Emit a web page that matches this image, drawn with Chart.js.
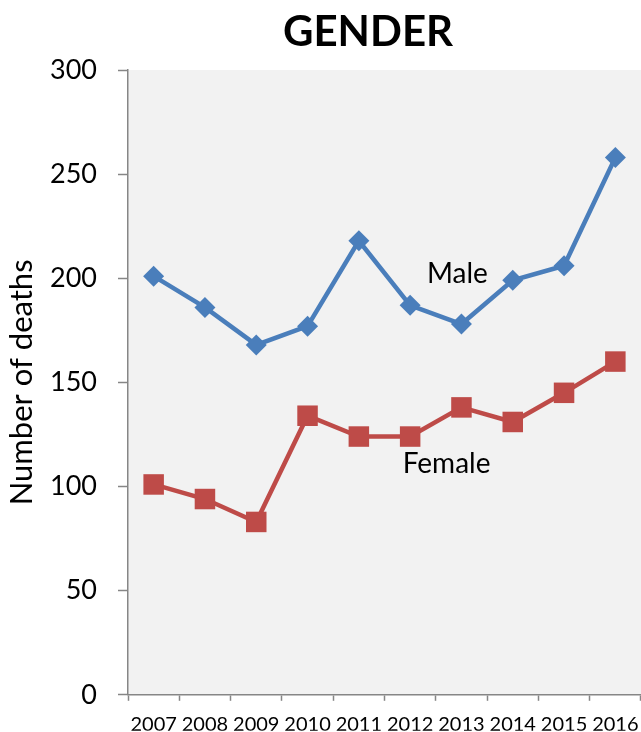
<!DOCTYPE html>
<html>
<head>
<meta charset="utf-8">
<title>Gender</title>
<script src="https://cdn.jsdelivr.net/npm/chart.js@4.4.0/dist/chart.umd.min.js"></script>
<style>
  html, body { margin: 0; padding: 0; background: #fff; }
  #wrap { width: 641px; height: 732px; }
</style>
</head>
<body>
<div id="wrap"><canvas id="genderChart" width="641" height="732"></canvas></div>
<script>
// data
const years = ['2007', '2008', '2009', '2010', '2011', '2012', '2013', '2014', '2015', '2016'];
const maleDeaths = [201, 186, 168, 177, 218, 187, 178, 199, 206, 258];
const femaleDeaths = [101, 94, 83, 134, 124, 124, 138, 131, 145, 160];
const yMin = 0;
const yMax = 300;
const yStep = 50;

const FONT = 'Lato, "Open Sans", sans-serif';
const AXIS_GREY = '#868686';
Chart.defaults.font.family = FONT;
Chart.defaults.color = '#000';

// plot background + title + in-plot series labels
const chartDecor = {
  id: 'chartDecor',
  beforeDraw(chart, args, opts) {
    const { ctx, chartArea: a } = chart;
    ctx.save();
    ctx.fillStyle = opts.plotBg;
    ctx.fillRect(a.left, a.top, a.right - a.left, a.bottom - a.top);
    ctx.restore();
  },
  afterDraw(chart, args, opts) {
    const { ctx, scales: { x, y } } = chart;
    ctx.save();
    ctx.fillStyle = '#000';
    ctx.textAlign = 'center';
    ctx.textBaseline = 'middle';
    ctx.font = 'bold 42px ' + FONT;
    ctx.fillText(opts.title, opts.titleX, opts.titleY);
    ctx.font = '28px ' + FONT;
    opts.labels.forEach(l => {
      ctx.fillText(l.text, x.getPixelForValue(l.at), y.getPixelForValue(l.value));
    });
    ctx.restore();
  }
};

new Chart(document.getElementById('genderChart').getContext('2d'), {
  type: 'line',
  data: {
    labels: years,
    datasets: [{
      label: 'Male',
      data: maleDeaths,
      borderColor: '#4a7ebb',
      backgroundColor: '#4a7ebb',
      borderWidth: 4.5,
      pointStyle: 'rectRot',
      pointRadius: 10.5,
      pointHoverRadius: 10.5,
      pointBorderWidth: 0,
      tension: 0
    }, {
      label: 'Female',
      data: femaleDeaths,
      borderColor: '#be4b48',
      backgroundColor: '#be4b48',
      borderWidth: 4.5,
      pointStyle: 'rect',
      pointRadius: 14.5,
      pointHoverRadius: 14.5,
      pointBorderWidth: 0,
      tension: 0
    }]
  },
  options: {
    responsive: false,
    animation: false,
    clip: false,
    layout: { autoPadding: false, padding: { top: 70, right: 0, left: 0, bottom: 0 } },
    plugins: {
      legend: { display: false },
      tooltip: { enabled: false },
      chartDecor: {
        plotBg: '#f2f2f2',
        title: 'GENDER',
        titleX: 368,
        titleY: 32,
        labels: [
          { text: 'Male', at: 5.92, value: 202 },
          { text: 'Female', at: 5.71, value: 110.7 }
        ]
      }
    },
    scales: {
      x: {
        offset: true,
        grid: {
          offset: true,
          drawOnChartArea: false,
          tickLength: 6,
          color: AXIS_GREY,
          tickWidth: 1.5
        },
        border: { color: AXIS_GREY, width: 1.5 },
        ticks: { font: { size: 20 }, padding: 12, maxRotation: 0, autoSkip: false },
        afterFit(scale) {
          scale.height = 36;
          // plot runs to the right edge like the original
          scale.paddingLeft = 0;
          scale.paddingRight = 0;
        }
      },
      y: {
        min: yMin,
        max: yMax,
        grid: {
          drawOnChartArea: false,
          tickLength: 10,
          color: AXIS_GREY,
          tickWidth: 1.5
        },
        border: { color: AXIS_GREY, width: 1.5 },
        ticks: { stepSize: yStep, font: { size: 27 }, padding: 21 },
        title: {
          display: true,
          text: 'Number of deaths',
          font: { size: 31 },
          padding: { top: 3, bottom: 0 }
        },
        afterFit(scale) { scale.width = 128; }
      }
    }
  },
  plugins: [chartDecor]
});
</script>
</body>
</html>
